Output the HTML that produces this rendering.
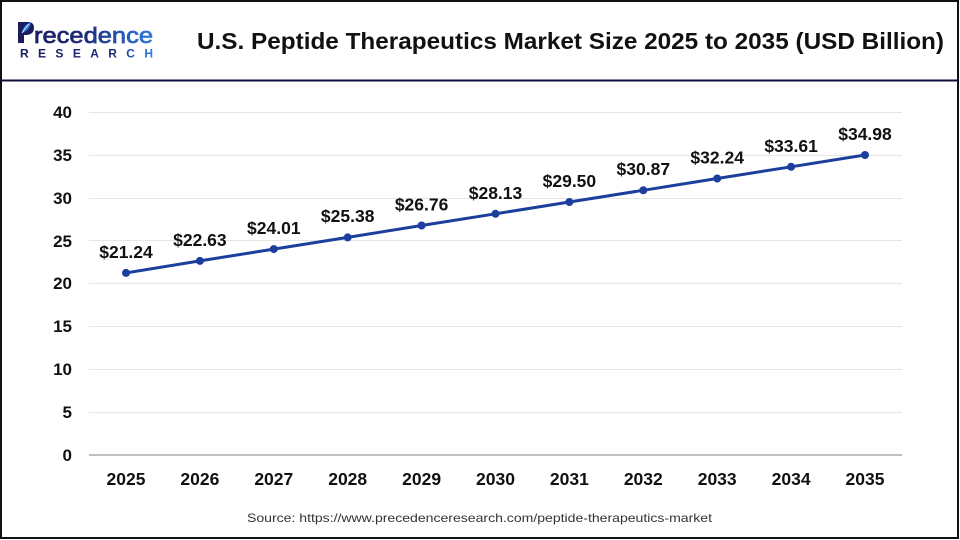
<!DOCTYPE html>
<html>
<head>
<meta charset="utf-8">
<style>
  html,body{margin:0;padding:0;background:#fff;}
  svg{display:block;}
</style>
</head>
<body>
<svg width="960" height="540" viewBox="0 0 960 540" xmlns="http://www.w3.org/2000/svg" font-family="Liberation Sans, Arial, sans-serif">
  <defs>
    <linearGradient id="lg" gradientUnits="userSpaceOnUse" x1="30" x2="153" y1="0" y2="0">
      <stop offset="0" stop-color="#1a1d5e"/>
      <stop offset="0.45" stop-color="#1f2c7c"/>
      <stop offset="1" stop-color="#2f7be0"/>
    </linearGradient>
    <linearGradient id="lg2" gradientUnits="userSpaceOnUse" x1="20" x2="153" y1="0" y2="0">
      <stop offset="0" stop-color="#1a1d5e"/>
      <stop offset="0.7" stop-color="#1f2c7c"/>
      <stop offset="1" stop-color="#2f7be0"/>
    </linearGradient>
  </defs>
  <rect x="0" y="0" width="960" height="540" fill="#fff"/>
  <!-- border -->
  <rect x="1" y="1" width="957" height="537" fill="none" stroke="#111" stroke-width="2"/>
  <!-- header line -->
  <line x1="1" y1="80.5" x2="958" y2="80.5" stroke="#0d0f3f" stroke-width="2"/>

  <!-- logo -->
  <path d="M18 22 L28 22 Q34 22 34 28 Q34 34 27 35 L24 35 L24 43 L18 43 Z" fill="#1a1d5e"/>
  <path d="M22 33 Q23 25 31 22 Q30 30 22 33 Z" fill="#2f7be0"/>
  <path d="M22 33 Q25 28 29 24" stroke="#fff" stroke-width="0.8" fill="none"/>
  <text x="34" y="43" font-size="22" fill="url(#lg)" stroke="url(#lg)" stroke-width="0.7" textLength="119" lengthAdjust="spacingAndGlyphs">recedence</text>
  <text x="20" y="57.5" font-size="12" font-weight="bold" fill="url(#lg2)" textLength="133" lengthAdjust="spacing">RESEARCH</text>

  <!-- title -->
  <text x="197" y="49" font-size="23" font-weight="bold" fill="#111" textLength="747" lengthAdjust="spacingAndGlyphs">U.S. Peptide Therapeutics Market Size 2025 to 2035 (USD Billion)</text>

  <!-- grid -->
  <g stroke="#e6e6e6" stroke-width="1">
    <line x1="89" x2="902" y1="112.5" y2="112.5"/>
    <line x1="89" x2="902" y1="155.5" y2="155.5"/>
    <line x1="89" x2="902" y1="198.5" y2="198.5"/>
    <line x1="89" x2="902" y1="240.5" y2="240.5"/>
    <line x1="89" x2="902" y1="283.5" y2="283.5"/>
    <line x1="89" x2="902" y1="326.5" y2="326.5"/>
    <line x1="89" x2="902" y1="369.5" y2="369.5"/>
    <line x1="89" x2="902" y1="412.5" y2="412.5"/>
  </g>
  <line x1="89" x2="902" y1="455" y2="455" stroke="#c0c0c0" stroke-width="2"/>

  <!-- y labels -->
  <g font-size="17" font-weight="bold" fill="#111" text-anchor="end">
    <text x="72" y="118">40</text>
    <text x="72" y="161">35</text>
    <text x="72" y="204">30</text>
    <text x="72" y="247">25</text>
    <text x="72" y="289">20</text>
    <text x="72" y="332">15</text>
    <text x="72" y="375">10</text>
    <text x="72" y="418">5</text>
    <text x="72" y="461">0</text>
  </g>

  <!-- x labels -->
  <g font-size="17.5" font-weight="bold" fill="#111" text-anchor="middle">
    <text x="126" y="485">2025</text>
    <text x="199.9" y="485">2026</text>
    <text x="273.8" y="485">2027</text>
    <text x="347.7" y="485">2028</text>
    <text x="421.6" y="485">2029</text>
    <text x="495.5" y="485">2030</text>
    <text x="569.4" y="485">2031</text>
    <text x="643.3" y="485">2032</text>
    <text x="717.2" y="485">2033</text>
    <text x="791.1" y="485">2034</text>
    <text x="865" y="485">2035</text>
  </g>

  <!-- line -->
  <polyline fill="none" stroke="#1c3f9e" stroke-width="3" stroke-linejoin="round"
    points="126,272.9 199.9,260.9 273.8,249.1 347.7,237.4 421.6,225.5 495.5,213.8 569.4,202.0 643.3,190.3 717.2,178.5 791.1,166.8 865,155.0"/>
  <g fill="#1c3f9e">
    <circle cx="126" cy="272.9" r="4"/>
    <circle cx="199.9" cy="260.9" r="4"/>
    <circle cx="273.8" cy="249.1" r="4"/>
    <circle cx="347.7" cy="237.4" r="4"/>
    <circle cx="421.6" cy="225.5" r="4"/>
    <circle cx="495.5" cy="213.8" r="4"/>
    <circle cx="569.4" cy="202.0" r="4"/>
    <circle cx="643.3" cy="190.3" r="4"/>
    <circle cx="717.2" cy="178.5" r="4"/>
    <circle cx="791.1" cy="166.8" r="4"/>
    <circle cx="865" cy="155.0" r="4"/>
  </g>

  <!-- value labels -->
  <g font-size="17.5" font-weight="bold" fill="#111" text-anchor="middle">
    <text x="126" y="258">$21.24</text>
    <text x="199.9" y="246">$22.63</text>
    <text x="273.8" y="234">$24.01</text>
    <text x="347.7" y="222">$25.38</text>
    <text x="421.6" y="210.5">$26.76</text>
    <text x="495.5" y="199">$28.13</text>
    <text x="569.4" y="187">$29.50</text>
    <text x="643.3" y="175">$30.87</text>
    <text x="717.2" y="163.5">$32.24</text>
    <text x="791.1" y="152">$33.61</text>
    <text x="865" y="140">$34.98</text>
  </g>

  <!-- source -->
  <text x="247" y="522" font-size="12" fill="#333" textLength="465" lengthAdjust="spacingAndGlyphs">Source: https://www.precedenceresearch.com/peptide-therapeutics-market</text>
</svg>
</body>
</html>
